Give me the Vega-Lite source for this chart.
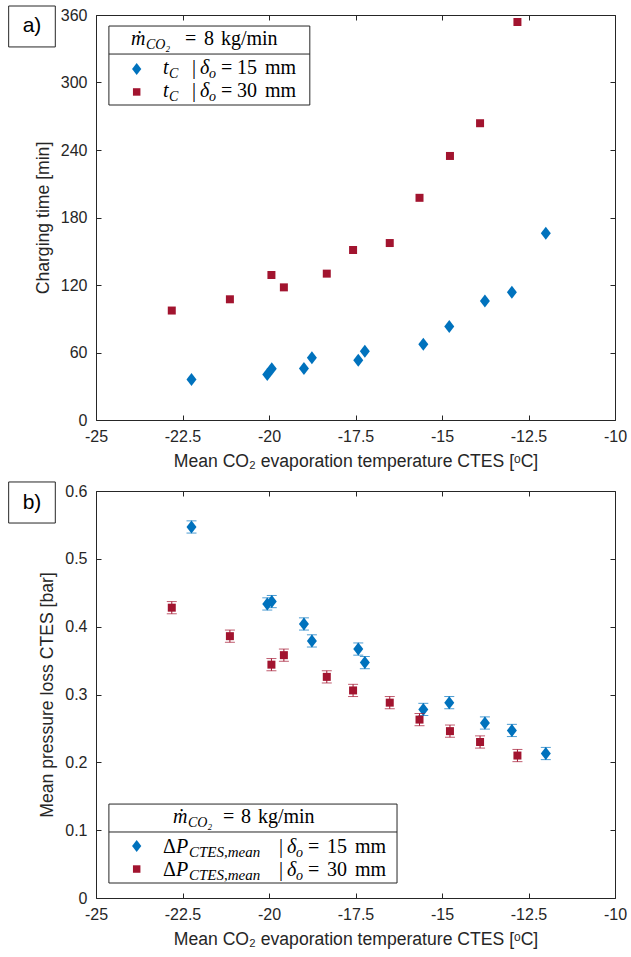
{
  "$schema": "https://vega.github.io/schema/vega-lite/v6.json",
  "background": "white",
  "padding": {"left": 7, "top": 5, "right": 0, "bottom": 0},
  "bounds": "flush",
  "spacing": 71,
  "config": {
    "view": {"stroke": "#262626", "strokeWidth": 1},
    "axis": {"domain": false, "grid": false, "ticks": true, "tickColor": "#262626", "tickSize": -5, "labelColor": "#262626", "labelFont": "Liberation Sans", "labelFontSize": 16, "labelFlush": false, "labelOverlap": false, "titleFont": "Liberation Sans", "titleFontSize": 17.6, "titleFontWeight": "normal", "titleColor": "#262626"},
    "text": {"font": "Liberation Serif", "color": "#000000"}
  },
  "datasets": {
    "a": [
      {"T": -22.24, "t": 36.1, "s": "15 mm"},
      {"T": -20.05, "t": 40.5, "s": "15 mm"},
      {"T": -19.92, "t": 45.5, "s": "15 mm"},
      {"T": -18.99, "t": 45.8, "s": "15 mm"},
      {"T": -18.76, "t": 55.3, "s": "15 mm"},
      {"T": -17.42, "t": 53.2, "s": "15 mm"},
      {"T": -17.23, "t": 61.2, "s": "15 mm"},
      {"T": -15.54, "t": 67.4, "s": "15 mm"},
      {"T": -14.79, "t": 83.1, "s": "15 mm"},
      {"T": -13.76, "t": 105.8, "s": "15 mm"},
      {"T": -12.98, "t": 113.5, "s": "15 mm"},
      {"T": -12.0, "t": 166.0, "s": "15 mm"},
      {"T": -22.81, "t": 97.3, "s": "30 mm"},
      {"T": -21.13, "t": 107.3, "s": "30 mm"},
      {"T": -19.93, "t": 128.9, "s": "30 mm"},
      {"T": -19.57, "t": 117.9, "s": "30 mm"},
      {"T": -18.33, "t": 130.1, "s": "30 mm"},
      {"T": -17.57, "t": 151.1, "s": "30 mm"},
      {"T": -16.51, "t": 157.3, "s": "30 mm"},
      {"T": -15.65, "t": 197.5, "s": "30 mm"},
      {"T": -14.77, "t": 234.7, "s": "30 mm"},
      {"T": -13.90, "t": 263.8, "s": "30 mm"},
      {"T": -12.82, "t": 353.8, "s": "30 mm"}
    ],
    "b": [
      {"T": -22.24, "p": 0.547, "err": 0.009, "s": "15 mm"},
      {"T": -20.05, "p": 0.4335, "err": 0.009, "s": "15 mm"},
      {"T": -19.92, "p": 0.437, "err": 0.009, "s": "15 mm"},
      {"T": -18.99, "p": 0.404, "err": 0.009, "s": "15 mm"},
      {"T": -18.76, "p": 0.379, "err": 0.009, "s": "15 mm"},
      {"T": -17.42, "p": 0.367, "err": 0.009, "s": "15 mm"},
      {"T": -17.23, "p": 0.347, "err": 0.009, "s": "15 mm"},
      {"T": -15.54, "p": 0.278, "err": 0.009, "s": "15 mm"},
      {"T": -14.79, "p": 0.288, "err": 0.009, "s": "15 mm"},
      {"T": -13.76, "p": 0.258, "err": 0.009, "s": "15 mm"},
      {"T": -12.98, "p": 0.247, "err": 0.009, "s": "15 mm"},
      {"T": -12.0, "p": 0.213, "err": 0.009, "s": "15 mm"},
      {"T": -22.81, "p": 0.428, "err": 0.009, "s": "30 mm"},
      {"T": -21.13, "p": 0.386, "err": 0.009, "s": "30 mm"},
      {"T": -19.93, "p": 0.344, "err": 0.009, "s": "30 mm"},
      {"T": -19.57, "p": 0.358, "err": 0.009, "s": "30 mm"},
      {"T": -18.33, "p": 0.326, "err": 0.009, "s": "30 mm"},
      {"T": -17.57, "p": 0.306, "err": 0.009, "s": "30 mm"},
      {"T": -16.51, "p": 0.288, "err": 0.009, "s": "30 mm"},
      {"T": -15.65, "p": 0.263, "err": 0.009, "s": "30 mm"},
      {"T": -14.77, "p": 0.246, "err": 0.009, "s": "30 mm"},
      {"T": -13.90, "p": 0.230, "err": 0.009, "s": "30 mm"},
      {"T": -12.82, "p": 0.210, "err": 0.009, "s": "30 mm"}
    ]
  },
  "vconcat": [
    {
      "width": 519,
      "height": 405,
      "data": {"values": [{}]},
      "resolve": {"axis": {"x": "independent", "y": "independent"}},
      "layer": [
        {"mark": {"type": "rect", "fill": "white", "stroke": "#262626", "strokeWidth": 1},
         "encoding": {"x": {"datum": -27.524, "type": "quantitative", "axis": null}, "x2": {"datum": -26.176}, "y": {"datum": 368, "type": "quantitative", "axis": null}, "y2": {"datum": 331.6}}},
        {"mark": {"type": "text", "text": "a)", "font": "Liberation Sans", "fontSize": 21, "align": "center", "baseline": "middle"},
         "encoding": {"x": {"datum": -26.85, "type": "quantitative", "axis": null}, "y": {"datum": 349.8, "type": "quantitative", "axis": null}}},
        {"data": {"name": "a"}, "transform": [{"filter": "datum.s == '15 mm'"}],
         "mark": {"type": "point", "shape": "M0,-1L0.77,0L0,1L-0.77,0Z", "filled": true, "color": "#0072BD", "size": 169, "opacity": 1, "strokeWidth": 0},
         "encoding": {
           "x": {"field": "T", "type": "quantitative", "scale": {"domain": [-25, -10], "nice": false, "zero": false}, "axis": {"orient": "top", "values": [-25, -22.5, -20, -17.5, -15, -12.5, -10], "labels": false, "title": null}},
           "y": {"field": "t", "type": "quantitative", "scale": {"domain": [0, 360], "nice": false, "zero": false}, "axis": {"orient": "right", "values": [0, 60, 120, 180, 240, 300, 360], "labels": false, "title": null}}}},
        {"data": {"name": "a"}, "transform": [{"filter": "datum.s == '30 mm'"}],
         "mark": {"type": "point", "shape": "square", "filled": true, "color": "#A2142F", "size": 64, "opacity": 1, "strokeWidth": 0},
         "encoding": {
           "x": {"field": "T", "type": "quantitative", "axis": {"orient": "bottom", "values": [-25, -22.5, -20, -17.5, -15, -12.5, -10], "labelExpr": "datum.value + ''", "labelPadding": 13, "title": "Mean CO₂ evaporation temperature CTES [ᵒC]", "titlePadding": 8}},
           "y": {"field": "t", "type": "quantitative", "axis": {"orient": "left", "values": [0, 60, 120, 180, 240, 300, 360], "labelExpr": "datum.value + ''", "labelPadding": 14, "title": "Charging time [min]", "titlePadding": 8}}}},
        {"mark": {"type": "rect", "fill": "white", "stroke": "#262626", "strokeWidth": 1},
         "encoding": {"x": {"datum": -24.627, "type": "quantitative", "axis": null}, "x2": {"datum": -18.82}, "y": {"datum": 350.2, "type": "quantitative", "axis": null}, "y2": {"datum": 280}}},
        {"mark": {"type": "rule", "color": "#262626", "strokeWidth": 1},
         "encoding": {"x": {"datum": -24.627, "type": "quantitative", "axis": null}, "x2": {"datum": -18.82}, "y": {"datum": 325.3, "type": "quantitative", "axis": null}}},
        {"mark": {"type": "text", "text": "ṁ", "fontStyle": "italic", "fontSize": 20, "align": "left", "baseline": "alphabetic", "dx": 22},
         "encoding": {"x": {"datum": -24.627, "type": "quantitative", "axis": null}, "y": {"datum": 333.3, "type": "quantitative", "axis": null}}},
        {"mark": {"type": "text", "text": "CO₂", "fontStyle": "italic", "fontSize": 14, "align": "left", "baseline": "alphabetic", "dx": 37, "dy": 4},
         "encoding": {"x": {"datum": -24.627, "type": "quantitative", "axis": null}, "y": {"datum": 333.3, "type": "quantitative", "axis": null}}},
        {"mark": {"type": "text", "text": "=", "fontSize": 20, "align": "left", "baseline": "alphabetic", "dx": 76},
         "encoding": {"x": {"datum": -24.627, "type": "quantitative", "axis": null}, "y": {"datum": 333.3, "type": "quantitative", "axis": null}}},
        {"mark": {"type": "text", "text": "8", "fontSize": 20, "align": "left", "baseline": "alphabetic", "dx": 95},
         "encoding": {"x": {"datum": -24.627, "type": "quantitative", "axis": null}, "y": {"datum": 333.3, "type": "quantitative", "axis": null}}},
        {"mark": {"type": "text", "text": "kg/min", "fontSize": 20, "align": "left", "baseline": "alphabetic", "dx": 112},
         "encoding": {"x": {"datum": -24.627, "type": "quantitative", "axis": null}, "y": {"datum": 333.3, "type": "quantitative", "axis": null}}},
        {"mark": {"type": "point", "shape": "M0,-1L0.77,0L0,1L-0.77,0Z", "filled": true, "color": "#0072BD", "size": 144, "opacity": 1, "strokeWidth": 0},
         "encoding": {"x": {"datum": -23.824, "type": "quantitative", "axis": null}, "y": {"datum": 312, "type": "quantitative", "axis": null}}},
        {"mark": {"type": "point", "shape": "square", "filled": true, "color": "#A2142F", "size": 56, "opacity": 1, "strokeWidth": 0},
         "encoding": {"x": {"datum": -23.824, "type": "quantitative", "axis": null}, "y": {"datum": 291.6, "type": "quantitative", "axis": null}}},
        {"mark": {"type": "text", "text": "t", "fontStyle": "italic", "fontSize": 20, "align": "left", "baseline": "alphabetic", "dx": 54},
         "encoding": {"x": {"datum": -24.627, "type": "quantitative", "axis": null}, "y": {"datum": 307.6, "type": "quantitative", "axis": null}}},
        {"mark": {"type": "text", "text": "C", "fontStyle": "italic", "fontSize": 14, "align": "left", "baseline": "alphabetic", "dx": 60, "dy": 4},
         "encoding": {"x": {"datum": -24.627, "type": "quantitative", "axis": null}, "y": {"datum": 307.6, "type": "quantitative", "axis": null}}},
        {"mark": {"type": "text", "text": "|", "fontSize": 20, "align": "left", "baseline": "alphabetic", "dx": 83},
         "encoding": {"x": {"datum": -24.627, "type": "quantitative", "axis": null}, "y": {"datum": 307.6, "type": "quantitative", "axis": null}}},
        {"mark": {"type": "text", "text": "δ", "fontStyle": "italic", "fontSize": 20, "align": "left", "baseline": "alphabetic", "dx": 91},
         "encoding": {"x": {"datum": -24.627, "type": "quantitative", "axis": null}, "y": {"datum": 307.6, "type": "quantitative", "axis": null}}},
        {"mark": {"type": "text", "text": "o", "fontStyle": "italic", "fontSize": 14, "align": "left", "baseline": "alphabetic", "dx": 100, "dy": 4},
         "encoding": {"x": {"datum": -24.627, "type": "quantitative", "axis": null}, "y": {"datum": 307.6, "type": "quantitative", "axis": null}}},
        {"mark": {"type": "text", "text": "=", "fontSize": 20, "align": "left", "baseline": "alphabetic", "dx": 112},
         "encoding": {"x": {"datum": -24.627, "type": "quantitative", "axis": null}, "y": {"datum": 307.6, "type": "quantitative", "axis": null}}},
        {"mark": {"type": "text", "text": "15", "fontSize": 20, "align": "left", "baseline": "alphabetic", "dx": 128},
         "encoding": {"x": {"datum": -24.627, "type": "quantitative", "axis": null}, "y": {"datum": 307.6, "type": "quantitative", "axis": null}}},
        {"mark": {"type": "text", "text": "mm", "fontSize": 20, "align": "left", "baseline": "alphabetic", "dx": 156},
         "encoding": {"x": {"datum": -24.627, "type": "quantitative", "axis": null}, "y": {"datum": 307.6, "type": "quantitative", "axis": null}}},
        {"mark": {"type": "text", "text": "t", "fontStyle": "italic", "fontSize": 20, "align": "left", "baseline": "alphabetic", "dx": 54},
         "encoding": {"x": {"datum": -24.627, "type": "quantitative", "axis": null}, "y": {"datum": 287.1, "type": "quantitative", "axis": null}}},
        {"mark": {"type": "text", "text": "C", "fontStyle": "italic", "fontSize": 14, "align": "left", "baseline": "alphabetic", "dx": 60, "dy": 4},
         "encoding": {"x": {"datum": -24.627, "type": "quantitative", "axis": null}, "y": {"datum": 287.1, "type": "quantitative", "axis": null}}},
        {"mark": {"type": "text", "text": "|", "fontSize": 20, "align": "left", "baseline": "alphabetic", "dx": 83},
         "encoding": {"x": {"datum": -24.627, "type": "quantitative", "axis": null}, "y": {"datum": 287.1, "type": "quantitative", "axis": null}}},
        {"mark": {"type": "text", "text": "δ", "fontStyle": "italic", "fontSize": 20, "align": "left", "baseline": "alphabetic", "dx": 91},
         "encoding": {"x": {"datum": -24.627, "type": "quantitative", "axis": null}, "y": {"datum": 287.1, "type": "quantitative", "axis": null}}},
        {"mark": {"type": "text", "text": "o", "fontStyle": "italic", "fontSize": 14, "align": "left", "baseline": "alphabetic", "dx": 100, "dy": 4},
         "encoding": {"x": {"datum": -24.627, "type": "quantitative", "axis": null}, "y": {"datum": 287.1, "type": "quantitative", "axis": null}}},
        {"mark": {"type": "text", "text": "=", "fontSize": 20, "align": "left", "baseline": "alphabetic", "dx": 112},
         "encoding": {"x": {"datum": -24.627, "type": "quantitative", "axis": null}, "y": {"datum": 287.1, "type": "quantitative", "axis": null}}},
        {"mark": {"type": "text", "text": "30", "fontSize": 20, "align": "left", "baseline": "alphabetic", "dx": 128},
         "encoding": {"x": {"datum": -24.627, "type": "quantitative", "axis": null}, "y": {"datum": 287.1, "type": "quantitative", "axis": null}}},
        {"mark": {"type": "text", "text": "mm", "fontSize": 20, "align": "left", "baseline": "alphabetic", "dx": 156},
         "encoding": {"x": {"datum": -24.627, "type": "quantitative", "axis": null}, "y": {"datum": 287.1, "type": "quantitative", "axis": null}}}
      ]
    },
    {
      "width": 519,
      "height": 407,
      "data": {"values": [{}]},
      "resolve": {"axis": {"x": "independent", "y": "independent"}},
      "layer": [
        {"mark": {"type": "rect", "fill": "white", "stroke": "#262626", "strokeWidth": 1},
         "encoding": {"x": {"datum": -27.524, "type": "quantitative", "axis": null}, "x2": {"datum": -26.176}, "y": {"datum": 0.6133, "type": "quantitative", "axis": null}, "y2": {"datum": 0.5528}}},
        {"mark": {"type": "text", "text": "b)", "font": "Liberation Sans", "fontSize": 21, "align": "center", "baseline": "middle"},
         "encoding": {"x": {"datum": -26.85, "type": "quantitative", "axis": null}, "y": {"datum": 0.583, "type": "quantitative", "axis": null}}},
        {"data": {"name": "b"}, "transform": [{"filter": "datum.s == '15 mm'"}],
         "mark": {"type": "errorbar", "color": "#0072BD", "ticks": {"size": 10}, "thickness": 1},
         "encoding": {"x": {"field": "T", "type": "quantitative", "axis": null}, "y": {"field": "p", "type": "quantitative", "axis": null}, "yError": {"field": "err"}}},
        {"data": {"name": "b"}, "transform": [{"filter": "datum.s == '15 mm'"}],
         "mark": {"type": "point", "shape": "M0,-1L0.77,0L0,1L-0.77,0Z", "filled": true, "color": "#0072BD", "size": 169, "opacity": 1, "strokeWidth": 0},
         "encoding": {
           "x": {"field": "T", "type": "quantitative", "scale": {"domain": [-25, -10], "nice": false, "zero": false}, "axis": {"orient": "top", "values": [-25, -22.5, -20, -17.5, -15, -12.5, -10], "labels": false, "title": null}},
           "y": {"field": "p", "type": "quantitative", "scale": {"domain": [0, 0.6], "nice": false, "zero": false}, "axis": {"orient": "right", "values": [0, 0.1, 0.2, 0.3, 0.4, 0.5, 0.6], "labels": false, "title": null}}}},
        {"data": {"name": "b"}, "transform": [{"filter": "datum.s == '30 mm'"}],
         "mark": {"type": "errorbar", "color": "#A2142F", "ticks": {"size": 10}, "thickness": 1},
         "encoding": {"x": {"field": "T", "type": "quantitative", "axis": null}, "y": {"field": "p", "type": "quantitative", "axis": null}, "yError": {"field": "err"}}},
        {"data": {"name": "b"}, "transform": [{"filter": "datum.s == '30 mm'"}],
         "mark": {"type": "point", "shape": "square", "filled": true, "color": "#A2142F", "size": 64, "opacity": 1, "strokeWidth": 0},
         "encoding": {
           "x": {"field": "T", "type": "quantitative", "axis": {"orient": "bottom", "values": [-25, -22.5, -20, -17.5, -15, -12.5, -10], "labelExpr": "datum.value + ''", "labelPadding": 13, "title": "Mean CO₂ evaporation temperature CTES [ᵒC]", "titlePadding": 8}},
           "y": {"field": "p", "type": "quantitative", "axis": {"orient": "left", "values": [0, 0.1, 0.2, 0.3, 0.4, 0.5, 0.6], "labelExpr": "datum.value + ''", "labelPadding": 14, "title": "Mean pressure loss CTES [bar]", "titlePadding": 8}}}},
        {"mark": {"type": "rect", "fill": "white", "stroke": "#262626", "strokeWidth": 1},
         "encoding": {"x": {"datum": -24.627, "type": "quantitative", "axis": null}, "x2": {"datum": -16.3}, "y": {"datum": 0.1385, "type": "quantitative", "axis": null}, "y2": {"datum": 0.0221}}},
        {"mark": {"type": "rule", "color": "#262626", "strokeWidth": 1},
         "encoding": {"x": {"datum": -24.627, "type": "quantitative", "axis": null}, "x2": {"datum": -16.3}, "y": {"datum": 0.0973, "type": "quantitative", "axis": null}}},
        {"mark": {"type": "text", "text": "ṁ", "fontStyle": "italic", "fontSize": 20, "align": "left", "baseline": "alphabetic", "dx": 64},
         "encoding": {"x": {"datum": -24.627, "type": "quantitative", "axis": null}, "y": {"datum": 0.1105, "type": "quantitative", "axis": null}}},
        {"mark": {"type": "text", "text": "CO₂", "fontStyle": "italic", "fontSize": 14, "align": "left", "baseline": "alphabetic", "dx": 79, "dy": 4},
         "encoding": {"x": {"datum": -24.627, "type": "quantitative", "axis": null}, "y": {"datum": 0.1105, "type": "quantitative", "axis": null}}},
        {"mark": {"type": "text", "text": "=", "fontSize": 20, "align": "left", "baseline": "alphabetic", "dx": 114},
         "encoding": {"x": {"datum": -24.627, "type": "quantitative", "axis": null}, "y": {"datum": 0.1105, "type": "quantitative", "axis": null}}},
        {"mark": {"type": "text", "text": "8", "fontSize": 20, "align": "left", "baseline": "alphabetic", "dx": 132},
         "encoding": {"x": {"datum": -24.627, "type": "quantitative", "axis": null}, "y": {"datum": 0.1105, "type": "quantitative", "axis": null}}},
        {"mark": {"type": "text", "text": "kg/min", "fontSize": 20, "align": "left", "baseline": "alphabetic", "dx": 149},
         "encoding": {"x": {"datum": -24.627, "type": "quantitative", "axis": null}, "y": {"datum": 0.1105, "type": "quantitative", "axis": null}}},
        {"mark": {"type": "point", "shape": "M0,-1L0.77,0L0,1L-0.77,0Z", "filled": true, "color": "#0072BD", "size": 144, "opacity": 1, "strokeWidth": 0},
         "encoding": {"x": {"datum": -23.824, "type": "quantitative", "axis": null}, "y": {"datum": 0.0766, "type": "quantitative", "axis": null}}},
        {"mark": {"type": "point", "shape": "square", "filled": true, "color": "#A2142F", "size": 56, "opacity": 1, "strokeWidth": 0},
         "encoding": {"x": {"datum": -23.824, "type": "quantitative", "axis": null}, "y": {"datum": 0.0427, "type": "quantitative", "axis": null}}},
        {"mark": {"type": "text", "text": "Δ", "fontSize": 20, "align": "left", "baseline": "alphabetic", "dx": 54},
         "encoding": {"x": {"datum": -24.627, "type": "quantitative", "axis": null}, "y": {"datum": 0.0663, "type": "quantitative", "axis": null}}},
        {"mark": {"type": "text", "text": "P", "fontStyle": "italic", "fontSize": 20, "align": "left", "baseline": "alphabetic", "dx": 67},
         "encoding": {"x": {"datum": -24.627, "type": "quantitative", "axis": null}, "y": {"datum": 0.0663, "type": "quantitative", "axis": null}}},
        {"mark": {"type": "text", "text": "CTES,mean", "fontStyle": "italic", "fontSize": 15, "align": "left", "baseline": "alphabetic", "dx": 80, "dy": 4},
         "encoding": {"x": {"datum": -24.627, "type": "quantitative", "axis": null}, "y": {"datum": 0.0663, "type": "quantitative", "axis": null}}},
        {"mark": {"type": "text", "text": "|", "fontSize": 20, "align": "left", "baseline": "alphabetic", "dx": 170},
         "encoding": {"x": {"datum": -24.627, "type": "quantitative", "axis": null}, "y": {"datum": 0.0663, "type": "quantitative", "axis": null}}},
        {"mark": {"type": "text", "text": "δ", "fontStyle": "italic", "fontSize": 20, "align": "left", "baseline": "alphabetic", "dx": 178},
         "encoding": {"x": {"datum": -24.627, "type": "quantitative", "axis": null}, "y": {"datum": 0.0663, "type": "quantitative", "axis": null}}},
        {"mark": {"type": "text", "text": "o", "fontStyle": "italic", "fontSize": 14, "align": "left", "baseline": "alphabetic", "dx": 187, "dy": 4},
         "encoding": {"x": {"datum": -24.627, "type": "quantitative", "axis": null}, "y": {"datum": 0.0663, "type": "quantitative", "axis": null}}},
        {"mark": {"type": "text", "text": "=", "fontSize": 20, "align": "left", "baseline": "alphabetic", "dx": 199},
         "encoding": {"x": {"datum": -24.627, "type": "quantitative", "axis": null}, "y": {"datum": 0.0663, "type": "quantitative", "axis": null}}},
        {"mark": {"type": "text", "text": "15", "fontSize": 20, "align": "left", "baseline": "alphabetic", "dx": 218},
         "encoding": {"x": {"datum": -24.627, "type": "quantitative", "axis": null}, "y": {"datum": 0.0663, "type": "quantitative", "axis": null}}},
        {"mark": {"type": "text", "text": "mm", "fontSize": 20, "align": "left", "baseline": "alphabetic", "dx": 246},
         "encoding": {"x": {"datum": -24.627, "type": "quantitative", "axis": null}, "y": {"datum": 0.0663, "type": "quantitative", "axis": null}}},
        {"mark": {"type": "text", "text": "Δ", "fontSize": 20, "align": "left", "baseline": "alphabetic", "dx": 54},
         "encoding": {"x": {"datum": -24.627, "type": "quantitative", "axis": null}, "y": {"datum": 0.0324, "type": "quantitative", "axis": null}}},
        {"mark": {"type": "text", "text": "P", "fontStyle": "italic", "fontSize": 20, "align": "left", "baseline": "alphabetic", "dx": 67},
         "encoding": {"x": {"datum": -24.627, "type": "quantitative", "axis": null}, "y": {"datum": 0.0324, "type": "quantitative", "axis": null}}},
        {"mark": {"type": "text", "text": "CTES,mean", "fontStyle": "italic", "fontSize": 15, "align": "left", "baseline": "alphabetic", "dx": 80, "dy": 4},
         "encoding": {"x": {"datum": -24.627, "type": "quantitative", "axis": null}, "y": {"datum": 0.0324, "type": "quantitative", "axis": null}}},
        {"mark": {"type": "text", "text": "|", "fontSize": 20, "align": "left", "baseline": "alphabetic", "dx": 170},
         "encoding": {"x": {"datum": -24.627, "type": "quantitative", "axis": null}, "y": {"datum": 0.0324, "type": "quantitative", "axis": null}}},
        {"mark": {"type": "text", "text": "δ", "fontStyle": "italic", "fontSize": 20, "align": "left", "baseline": "alphabetic", "dx": 178},
         "encoding": {"x": {"datum": -24.627, "type": "quantitative", "axis": null}, "y": {"datum": 0.0324, "type": "quantitative", "axis": null}}},
        {"mark": {"type": "text", "text": "o", "fontStyle": "italic", "fontSize": 14, "align": "left", "baseline": "alphabetic", "dx": 187, "dy": 4},
         "encoding": {"x": {"datum": -24.627, "type": "quantitative", "axis": null}, "y": {"datum": 0.0324, "type": "quantitative", "axis": null}}},
        {"mark": {"type": "text", "text": "=", "fontSize": 20, "align": "left", "baseline": "alphabetic", "dx": 199},
         "encoding": {"x": {"datum": -24.627, "type": "quantitative", "axis": null}, "y": {"datum": 0.0324, "type": "quantitative", "axis": null}}},
        {"mark": {"type": "text", "text": "30", "fontSize": 20, "align": "left", "baseline": "alphabetic", "dx": 218},
         "encoding": {"x": {"datum": -24.627, "type": "quantitative", "axis": null}, "y": {"datum": 0.0324, "type": "quantitative", "axis": null}}},
        {"mark": {"type": "text", "text": "mm", "fontSize": 20, "align": "left", "baseline": "alphabetic", "dx": 246},
         "encoding": {"x": {"datum": -24.627, "type": "quantitative", "axis": null}, "y": {"datum": 0.0324, "type": "quantitative", "axis": null}}}
      ]
    }
  ]
}
